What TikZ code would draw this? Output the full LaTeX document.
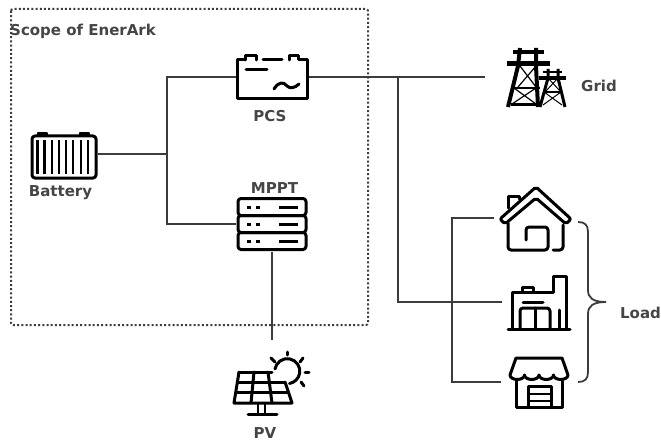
\documentclass[tikz,border=0pt]{standalone}
\usepackage{fontspec}
\setmainfont{DejaVu Sans}
\definecolor{dg}{HTML}{3C3C3C}
\definecolor{tg}{HTML}{454545}
\tikzset{
    wire/.style =   {draw=dg,
                    line width=2pt},
    icon/.style =   {draw=black,
                    line width=3pt,
                    line join=round,
                    line cap=round,
                    fill=none},
    thin icon/.style = {icon,
                    line width=2.2pt},
    slot/.style =   {rectangle,
                    inner sep=0pt,
                    outer sep=0pt},
    tag/.style =    {text=tg,
                    inner sep=0pt,
                    font=\bfseries\fontsize{15}{18}\selectfont},
    scope box/.style = {draw=dg,
                    line width=2pt,
                    dash pattern=on 2pt off 2.2pt,
                    rounded corners=2pt},
    brace/.style =  {draw=dg,
                    line width=1.8pt}
}
\begin{document}
\begin{tikzpicture}[x=1pt,y=-1pt]
            \useasboundingbox (0,0) rectangle (661,441);
            \path [scope box] (11,9) rectangle (368,325);
            % slots that the connectors end on
            \node[slot,minimum width=67pt,minimum height=46pt] (battery) at (64.5,154) {};
            \node[slot,minimum width=72pt,minimum height=46pt] (pcs)     at (272,77)   {};
            \node[slot,minimum width=72pt,minimum height=56pt] (mppt)    at (272,224)  {};
            \node[slot,minimum width=76pt,minimum height=74pt] (pv)      at (272,377)  {};
            \node[slot,minimum width=84pt,minimum height=60pt] (grid)    at (527,77)   {};
            \node[slot,minimum width=78pt,minimum height=64pt] (house)   at (533,218)  {};
            \node[slot,minimum width=70pt,minimum height=56pt] (factory) at (537,302)  {};
            \node[slot,minimum width=69pt,minimum height=50pt] (shop)    at (535.5,382) {};
            \coordinate (bustop) at (167,77);
            \coordinate (busmid) at (167,154);
            \coordinate (busbot) at (167,224);
            \coordinate (tee)    at (398,77);
            \coordinate (teebot) at (398,302);
            \coordinate (loadtop) at (452,218);
            \coordinate (loadbot) at (452,382);
            % connectors
            \path [wire] (pcs.west) -- (bustop) -- (busbot) -- (mppt.west);
            \path [wire] (battery.east) -- (busmid);
            \path [wire] (pcs.east) -- (grid.west);
            \path [wire] (tee) -- (teebot) -- (factory.west);
            \path [wire] (house.west) -- (loadtop) -- (loadbot) -- (shop.west);
            \path [wire] (mppt.south) -- (pv.north);
            % battery
            \draw [icon,rounded corners=3pt] (32,136) rectangle (96,178);
            \draw [icon,fill=black,line width=1.4pt] (38,133) rectangle (47,135);
            \draw [icon,fill=black,line width=1.4pt] (80,133) rectangle (89,135);
            \foreach \x in {37.5,44.5,52,59,66,73,81,88}
                \draw [thin icon,line cap=butt] (\x,140) -- (\x,174);
            % pcs
            \draw [icon] (245,60) -- (237,60) -- (237,99) -- (307,99) -- (307,60) -- (298,60)
                         -- (298,56) -- (289,56) -- (289,60);
            \draw [icon] (245,60) -- (245,56) -- (256,56) -- (256,60);
            \draw [icon] (263,60) -- (282,60);
            \draw [icon] (246,70) -- (267,70);
            \draw [icon] (274,89) .. controls (279,81) and (284,82) .. (287,86)
                         .. controls (290,89) and (295,88) .. (299,84);
            % mppt
            \foreach \y in {207,224,241} {
                \draw [icon,rounded corners=3pt] (238,\y-8.5) rectangle (306,\y+8.5);
                \draw [thin icon,line cap=butt,line width=3pt] (247,\y) -- (251,\y);
                \draw [thin icon,line cap=butt,line width=3pt] (256,\y) -- (260,\y);
                \draw [thin icon,line cap=butt,line width=3pt] (279,\y) -- (298,\y);
            }
            % pv
            \draw [icon] (239,372) -- (272,372);
            \draw [icon] (239,372) -- (234,403) -- (292,403) -- (285,382);
            \draw [icon] (237.5,382) -- (284,382);
            \draw [icon] (236,392) -- (288,392);
            \draw [icon] (254,372) -- (251,403);
            \draw [icon] (268,372) -- (272,403);
            \draw [thin icon] (258,403) -- (258,413);
            \draw [thin icon] (265,403) -- (265,413);
            \draw [icon] (248,414) -- (277,414);
            \draw [icon] (275,369) arc (190:440:12.5);
            \draw [icon] (287,352) -- (287,355);
            \draw [icon] (271,358) -- (275,362);
            \draw [icon] (303,358) -- (300,362);
            \draw [icon] (305,372) -- (309,372);
            \draw [icon] (301,382) -- (304,386);
            % grid
            \draw [line width=4pt,black] (508,107) -- (518,66) -- (520,48);
            \draw [line width=4pt,black] (538,107) -- (536,66) -- (536,48);
            \draw [line width=4pt,black] (513,52) -- (544,52);
            \draw [line width=5pt,black] (507,64) -- (550,64);
            \draw [line width=3pt,black] (511,105) -- (538,105);
            \draw [line width=2.4pt,black] (513,88) -- (540,88);
            \draw [line width=1.2pt,black] (514,88) -- (536,104) (536,88) -- (512,104)
                                           (520,66) -- (536,87) (536,66) -- (518,87);
            \draw [line width=3pt,black] (540,107) -- (548,78) -- (548,69);
            \draw [line width=3pt,black] (565,107) -- (558,78) -- (558,69);
            \draw [line width=2.6pt,black] (543,72) -- (562,72);
            \draw [line width=4pt,black] (539,78) -- (566,78);
            \draw [line width=2pt,black] (544,92) -- (561,92);
            \draw [line width=1pt,black] (544,92) -- (562,105) (561,92) -- (543,105)
                                         (548,78) -- (560,91) (558,78) -- (546,91);
            % house
            \draw [icon,rounded corners=2pt] (500,219) -- (536,187) -- (571,219) -- (566,224)
                         -- (536,198) -- (505,224) -- cycle;
            \draw [icon] (508,208) -- (508,196) -- (519,196) -- (519,199);
            \draw [icon,rounded corners=3pt] (508,223) -- (508,250) -- (548,250) -- (548,227)
                         -- (526,227) -- (526,240);
            \draw [icon,rounded corners=3pt] (553,250) -- (563,250) -- (563,225);
            % factory
            \draw [icon] (508,329) -- (570,329);
            \draw [icon] (512,329) -- (512,292) -- (553,292) -- (553,276) -- (566,276) -- (566,329);
            \draw [icon] (522,292) -- (522,287) -- (533,287) -- (533,292);
            \draw [icon] (523,302) -- (543,302);
            \draw [icon,rounded corners=3pt] (520,329) -- (520,308) -- (550,308) -- (550,329);
            \draw [icon] (535,308) -- (535,329);
            \draw [icon] (559,329) -- (559,310);
            % shop
            \draw [icon] (516,358) -- (562,358) -- (568,375)
                         arc (0:180:7.25 and 4.5) arc (0:180:7.25 and 4.5)
                         arc (0:180:7.25 and 4.5) arc (0:180:7.25 and 4.5) -- cycle;
            \draw [icon] (516,381) -- (516,407) -- (562,407) -- (562,381);
            \draw [icon] (528,407) -- (528,386) -- (551,386) -- (551,407);
            \draw [draw=black,line width=1.6pt] (528,394) -- (551,394);
            \draw [draw=black,line width=1.6pt] (528,401) -- (551,401);
            % brace
            \draw [brace] (578,222) .. controls (585,222) and (588,225) .. (588,232)
                          -- (588,290) .. controls (588,298) and (593,302) .. (606,302)
                          .. controls (593,302) and (588,306) .. (588,314)
                          -- (588,372) .. controls (588,379) and (585,382) .. (578,382);
            % labels
            \node[tag,anchor=west] (scope)   at (10,31)   {Scope of EnerArk};
            \node[tag]             (pcstag)  at (270,116) {PCS};
            \node[tag]             (battag)  at (60.5,193) {Battery};
            \node[tag]             (mppttag) at (274.5,188) {MPPT};
            \node[tag]             (pvtag)   at (265,433) {PV};
            \node[tag]             (gridtag) at (599,86)  {Grid};
            \node[tag]             (loadtag) at (640.5,313) {Load};
        \end{tikzpicture}
\end{document}
